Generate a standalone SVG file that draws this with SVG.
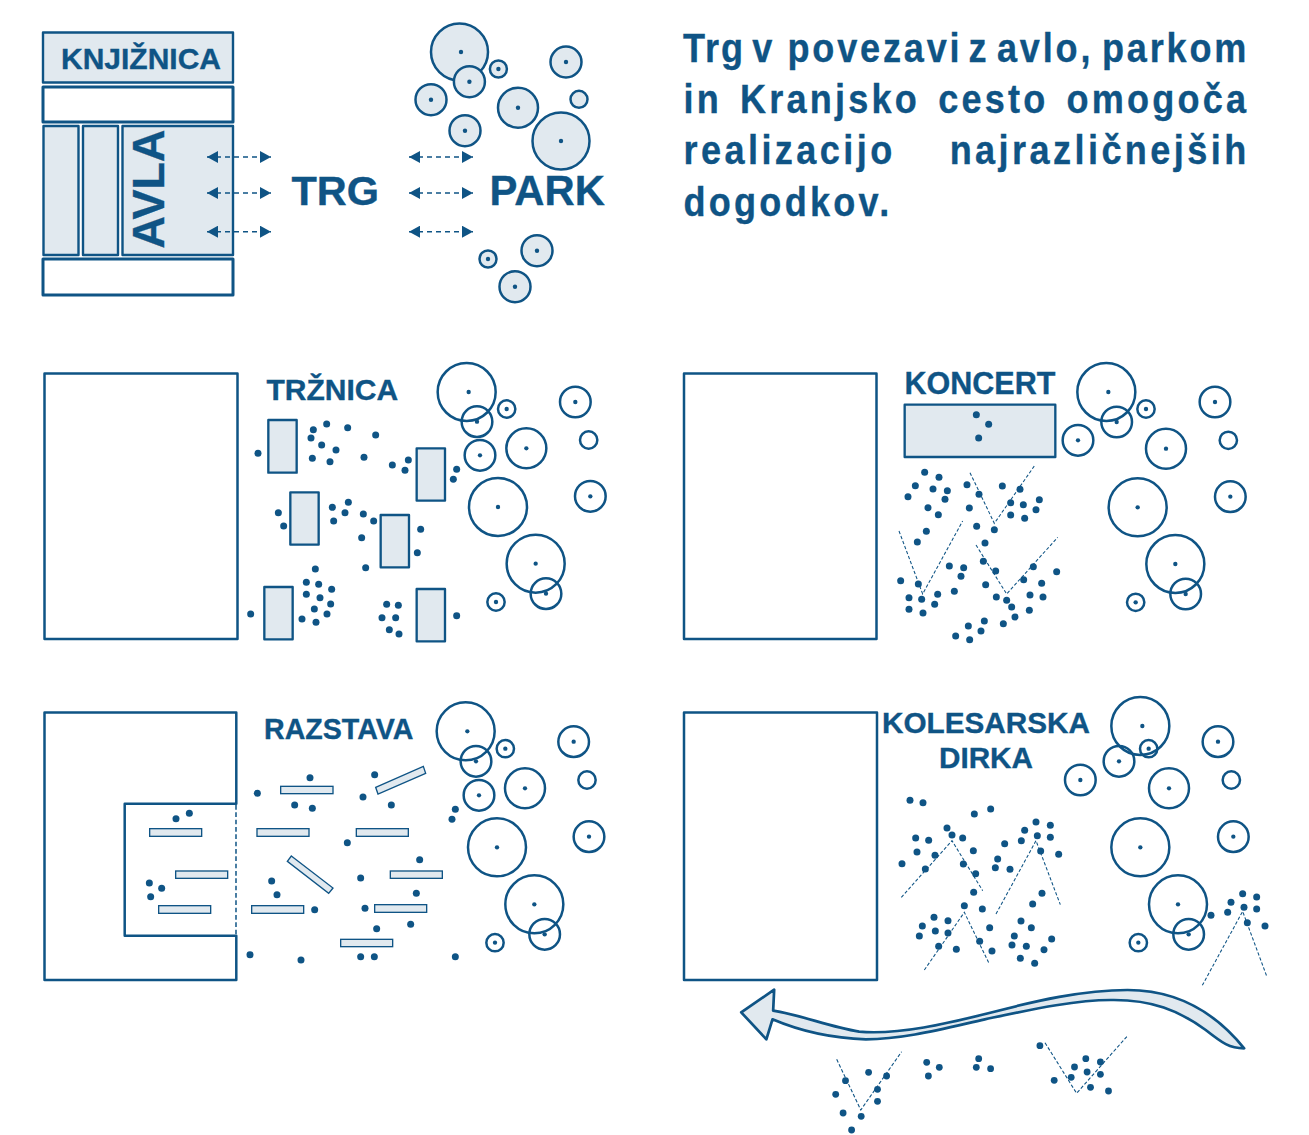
<svg xmlns="http://www.w3.org/2000/svg" width="1309" height="1135" viewBox="0 0 1309 1135">
<style>
text{font-family:"Liberation Sans",Arial,sans-serif;font-weight:700;fill:#0f5485;stroke:#0f5485;stroke-width:.35}
.box{fill:#e1e9ef;stroke:#0f5485;stroke-width:2.4;stroke-linejoin:round}
.wall{fill:#fff;stroke:#0f5485;stroke-width:2.5;stroke-linejoin:round}
.wall3{fill:#fff;stroke:#0f5485;stroke-width:3;stroke-linejoin:round}
.flow{fill:none;stroke:#0f5485;stroke-width:1.4;stroke-dasharray:5 4;marker-start:url(#hs);marker-end:url(#he)}
.park circle{fill:#e1e9ef;stroke:#0f5485;stroke-width:2.5}
.park circle.c{fill:#0f5485;stroke:none;r:2.2px}
.z .t{fill:none;stroke:#0f5485;stroke-width:7.5}
.z .c{fill:#0f5485;r:6.5px}
.z .d{fill:#0f5485;r:10.5px}
.z .s{fill:#e1e9ef;stroke:#0f5485;stroke-width:7;stroke-linejoin:round}
.z .n{fill:#e1e9ef;stroke:#0f5485;stroke-width:4}
.z .v{fill:none;stroke:#0f5485;stroke-width:3.2;stroke-dasharray:10 6}
.z .dd{fill:none;stroke:#0f5485;stroke-width:4.5;stroke-dasharray:14 8}
.dot{fill:#0f5485;r:3.4px}
.v2{fill:none;stroke:#0f5485;stroke-width:1.1;stroke-dasharray:3.5 2}
</style>
<defs>
<marker id="he" markerUnits="userSpaceOnUse" markerWidth="11" markerHeight="12" refX="11" refY="6" orient="auto"><path d="M0 0L11 6L0 12Z" fill="#0f5485"/></marker>
<marker id="hs" markerUnits="userSpaceOnUse" markerWidth="11" markerHeight="12" refX="0" refY="6" orient="auto"><path d="M11 0L0 6L11 12Z" fill="#0f5485"/></marker>
</defs>

<g id="knjiznica">
<rect class="box" x="43" y="32.5" width="190" height="50"/>
<text x="61" y="69" font-size="30">KNJIŽNICA</text>
</g>
<rect id="hodnik" class="wall3" x="43" y="87" width="190" height="35"/>
<rect id="stolpec-1" class="box" x="43.5" y="126" width="35" height="129"/>
<rect id="stolpec-2" class="box" x="83" y="126" width="35" height="129"/>
<g id="avla">
<rect class="box" x="122.5" y="126" width="110.5" height="129"/>
<text transform="translate(163.5 189) rotate(-90)" text-anchor="middle" font-size="45">AVLA</text>
</g>
<rect id="spodaj" class="wall3" x="43" y="259" width="190" height="36"/>
<text id="trg" x="291.500" y="205" font-size="41.500">TRG</text>
<text id="park-label" x="489.500" y="205" font-size="41.800">PARK</text>

<g id="connectors">
<path class="flow" d="M207 157H271"/>
<path class="flow" d="M207 193H271"/>
<path class="flow" d="M207 231.700H271"/>
<path class="flow" d="M409 157H473"/>
<path class="flow" d="M409 193H473"/>
<path class="flow" d="M409 231.700H473"/>
</g>

<g id="park" class="park">
<circle cx="459.500" cy="52" r="28.500"/><circle class="c" cx="461" cy="52"/>
<circle cx="498.400" cy="69" r="8.500"/><circle class="c" cx="498.400" cy="69"/>
<circle cx="469.400" cy="81.700" r="15.500"/><circle class="c" cx="469.400" cy="81.700"/>
<circle cx="566" cy="62" r="15.500"/><circle class="c" cx="566" cy="62"/>
<circle cx="431" cy="99.700" r="15.500"/><circle class="c" cx="431" cy="99.700"/>
<circle cx="518" cy="107.700" r="20"/><circle class="c" cx="518" cy="107.700"/>
<circle cx="579" cy="99.300" r="8.500"/>
<circle cx="465" cy="130.700" r="15.500"/><circle class="c" cx="465" cy="130.700"/>
<circle cx="561" cy="141" r="28.500"/><circle class="c" cx="561" cy="141"/>
<circle cx="537" cy="250.700" r="15.500"/><circle class="c" cx="537" cy="250.700"/>
<circle cx="488" cy="259" r="8.500"/><circle class="c" cx="488" cy="259"/>
<circle cx="515" cy="286.700" r="15.500"/><circle class="c" cx="515" cy="286.700"/>
</g>

<g id="opis" font-size="41">
<text transform="translate(683 62) scale(.88 1)" letter-spacing="3.200" word-spacing="-5.200"><tspan letter-spacing="2.200">Trg </tspan>v <tspan dx="4.600">povezavi </tspan><tspan dx="-2.500">z </tspan><tspan dx="-.7">avlo, </tspan><tspan dx=".5">parkom</tspan></text>
<text transform="translate(683.500 113.300) scale(.88 1)" letter-spacing="3.650" word-spacing="5.500">in Kranjsko cesto omogoča</text>
<text transform="translate(683.500 164) scale(.88 1)" letter-spacing="3.900" word-spacing="46">realizacijo najrazličnejših</text>
<text transform="translate(683.500 216) scale(.88 1)" letter-spacing="3.700">dogodkov.</text>
</g>

<g id="trznica">
<rect class="wall" x="44.500" y="373.500" width="193" height="265.500"/>
<text x="266.500" y="400" font-size="30">TRŽNICA</text>
<g class="z" transform="translate(230 350) scale(.33333)">
<circle class="t" cx="710" cy="126" r="87"/><circle class="c" cx="716" cy="126"/>
<circle class="t" cx="741" cy="215" r="46"/><circle class="c" cx="741" cy="215"/>
<circle class="t" cx="830" cy="177" r="26"/><circle class="c" cx="830" cy="177"/>
<circle class="t" cx="1036" cy="156" r="46"/><circle class="c" cx="1036" cy="156"/>
<circle class="t" cx="750" cy="316" r="46"/><circle class="c" cx="750" cy="316"/>
<circle class="t" cx="889" cy="295" r="60"/><circle class="c" cx="889" cy="295"/>
<circle class="t" cx="1076" cy="270" r="26"/>
<circle class="t" cx="804" cy="471" r="87"/><circle class="c" cx="804" cy="471"/>
<circle class="t" cx="1081" cy="439" r="46"/><circle class="c" cx="1081" cy="439"/>
<circle class="t" cx="917" cy="641" r="87"/><circle class="c" cx="917" cy="641"/>
<circle class="t" cx="948" cy="731" r="46"/><circle class="c" cx="948" cy="731"/>
<circle class="t" cx="798" cy="756" r="26"/><circle class="c" cx="798" cy="756"/>
<rect class="s" x="115" y="210" width="85" height="158"/>
<rect class="s" x="560" y="295" width="85" height="157"/>
<rect class="s" x="181" y="427" width="85" height="157"/>
<rect class="s" x="452" y="495" width="85" height="157"/>
<rect class="s" x="103" y="711" width="85" height="157"/>
<rect class="s" x="560" y="717" width="85" height="157"/>
<circle class="d" cx="84" cy="310"/><circle class="d" cx="250" cy="239"/><circle class="d" cx="290" cy="222"/><circle class="d" cx="353" cy="233"/><circle class="d" cx="437" cy="255"/><circle class="d" cx="243" cy="264"/><circle class="d" cx="275" cy="285"/><circle class="d" cx="318" cy="300"/><circle class="d" cx="247" cy="325"/><circle class="d" cx="300" cy="335"/><circle class="d" cx="402" cy="322"/><circle class="d" cx="487" cy="345"/><circle class="d" cx="535" cy="330"/><circle class="d" cx="525" cy="361"/><circle class="d" cx="680" cy="358"/><circle class="d" cx="670" cy="388"/>
<circle class="d" cx="145" cy="488"/><circle class="d" cx="161" cy="528"/><circle class="d" cx="307" cy="472"/><circle class="d" cx="355" cy="457"/><circle class="d" cx="345" cy="488"/><circle class="d" cx="311" cy="513"/><circle class="d" cx="400" cy="492"/><circle class="d" cx="431" cy="513"/><circle class="d" cx="395" cy="563"/><circle class="d" cx="572" cy="538"/><circle class="d" cx="562" cy="608"/><circle class="d" cx="407" cy="653"/>
<circle class="d" cx="256" cy="657"/><circle class="d" cx="229" cy="697"/><circle class="d" cx="266" cy="703"/><circle class="d" cx="305" cy="718"/><circle class="d" cx="229" cy="733"/><circle class="d" cx="270" cy="743"/><circle class="d" cx="302" cy="762"/><circle class="d" cx="253" cy="777"/><circle class="d" cx="291" cy="792"/><circle class="d" cx="216" cy="807"/><circle class="d" cx="258" cy="817"/><circle class="d" cx="62" cy="792"/>
<circle class="d" cx="470" cy="763"/><circle class="d" cx="505" cy="766"/><circle class="d" cx="456" cy="803"/><circle class="d" cx="497" cy="803"/><circle class="d" cx="478" cy="839"/><circle class="d" cx="507" cy="852"/><circle class="d" cx="680" cy="797"/>
</g>
</g>

<g id="koncert">
<rect class="wall" x="684" y="373.500" width="192.500" height="265.500"/>
<text x="904.500" y="394.300" font-size="30.500">KONCERT</text>
<g class="z" transform="translate(880 350) scale(.33333)">
<circle class="t" cx="679" cy="126" r="87"/><circle class="c" cx="685" cy="126"/>
<circle class="t" cx="710" cy="216" r="46"/><circle class="c" cx="710" cy="216"/>
<circle class="t" cx="798" cy="177" r="26"/><circle class="c" cx="798" cy="177"/>
<circle class="t" cx="1005" cy="156" r="46"/><circle class="c" cx="1005" cy="156"/>
<circle class="t" cx="594" cy="271" r="46"/><circle class="c" cx="594" cy="271"/>
<circle class="t" cx="858" cy="296" r="60"/><circle class="c" cx="858" cy="296"/>
<circle class="t" cx="1045" cy="271" r="26"/>
<circle class="t" cx="773" cy="472" r="87"/><circle class="c" cx="773" cy="472"/>
<circle class="t" cx="1051" cy="440" r="46"/><circle class="c" cx="1051" cy="440"/>
<circle class="t" cx="886" cy="642" r="87"/><circle class="c" cx="886" cy="642"/>
<circle class="t" cx="917" cy="732" r="46"/><circle class="c" cx="917" cy="732"/>
<circle class="t" cx="767" cy="757" r="26"/><circle class="c" cx="767" cy="757"/>
<rect class="s" x="74" y="164" width="452" height="157"/>
<path class="v" d="M270 368L343 520L465 345"/>
<path class="v" d="M57 543L128 732L248 513"/>
<path class="v" d="M288 585L380 732L533 562"/>
<circle class="d" cx="289" cy="194"/><circle class="d" cx="326" cy="223"/><circle class="d" cx="296" cy="264"/>
<circle class="d" cx="134" cy="367"/><circle class="d" cx="177" cy="382"/><circle class="d" cx="106" cy="407"/><circle class="d" cx="159" cy="417"/><circle class="d" cx="202" cy="422"/><circle class="d" cx="84" cy="440"/><circle class="d" cx="195" cy="448"/><circle class="d" cx="144" cy="473"/><circle class="d" cx="175" cy="494"/><circle class="d" cx="261" cy="404"/><circle class="d" cx="297" cy="433"/><circle class="d" cx="367" cy="408"/><circle class="d" cx="420" cy="418"/><circle class="d" cx="392" cy="458"/><circle class="d" cx="430" cy="464"/><circle class="d" cx="478" cy="449"/><circle class="d" cx="468" cy="479"/><circle class="d" cx="392" cy="495"/><circle class="d" cx="434" cy="505"/><circle class="d" cx="268" cy="474"/><circle class="d" cx="290" cy="529"/><circle class="d" cx="343" cy="539"/><circle class="d" cx="139" cy="544"/><circle class="d" cx="112" cy="576"/><circle class="d" cx="315" cy="579"/><circle class="d" cx="310" cy="634"/><circle class="d" cx="347" cy="663"/><circle class="d" cx="208" cy="648"/><circle class="d" cx="251" cy="653"/><circle class="d" cx="243" cy="679"/><circle class="d" cx="460" cy="650"/><circle class="d" cx="530" cy="665"/><circle class="d" cx="62" cy="692"/><circle class="d" cx="115" cy="702"/><circle class="d" cx="431" cy="689"/><circle class="d" cx="485" cy="700"/><circle class="d" cx="317" cy="704"/><circle class="d" cx="223" cy="724"/><circle class="d" cx="87" cy="743"/><circle class="d" cx="125" cy="748"/><circle class="d" cx="173" cy="733"/><circle class="d" cx="164" cy="763"/><circle class="d" cx="87" cy="778"/><circle class="d" cx="129" cy="789"/><circle class="d" cx="349" cy="741"/><circle class="d" cx="380" cy="751"/><circle class="d" cx="450" cy="735"/><circle class="d" cx="489" cy="741"/><circle class="d" cx="395" cy="771"/><circle class="d" cx="448" cy="781"/><circle class="d" cx="405" cy="801"/><circle class="d" cx="370" cy="821"/><circle class="d" cx="313" cy="813"/><circle class="d" cx="265" cy="828"/><circle class="d" cx="303" cy="843"/><circle class="d" cx="227" cy="858"/><circle class="d" cx="269" cy="869"/>
</g>
</g>

<g id="razstava">
<path class="wall" d="M44.500 712.500H236.300V803.700H124.700V935.700H236.300V980H44.500Z"/>
<text x="264" y="739.300" font-size="28.600">RAZSTAVA</text>
<g class="z" transform="translate(100 690) scale(.33333)">
<path class="dd" d="M408 345V737"/>
<circle class="t" cx="1097" cy="124" r="87"/><circle class="c" cx="1102" cy="124"/>
<circle class="t" cx="1128" cy="214" r="46"/><circle class="c" cx="1128" cy="214"/>
<circle class="t" cx="1216" cy="176" r="26"/><circle class="c" cx="1216" cy="176"/>
<circle class="t" cx="1421" cy="155" r="46"/><circle class="c" cx="1421" cy="155"/>
<circle class="t" cx="1137" cy="316" r="46"/><circle class="c" cx="1137" cy="316"/>
<circle class="t" cx="1275" cy="295" r="60"/><circle class="c" cx="1275" cy="295"/>
<circle class="t" cx="1461" cy="270" r="26"/>
<circle class="t" cx="1191" cy="472" r="87"/><circle class="c" cx="1191" cy="472"/>
<circle class="t" cx="1467" cy="440" r="46"/><circle class="c" cx="1467" cy="440"/>
<circle class="t" cx="1303" cy="643" r="87"/><circle class="c" cx="1303" cy="643"/>
<circle class="t" cx="1334" cy="733" r="46"/><circle class="c" cx="1334" cy="733"/>
<circle class="t" cx="1185" cy="758" r="26"/><circle class="c" cx="1185" cy="758"/>
<rect class="n" x="542" y="289" width="157" height="22"/>
<rect class="n" x="149" y="416" width="156" height="23"/>
<rect class="n" x="471" y="416" width="156" height="23"/>
<rect class="n" x="769" y="416" width="156" height="23"/>
<rect class="n" x="227" y="543" width="156" height="22"/>
<rect class="n" x="871" y="543" width="156" height="22"/>
<rect class="n" x="176" y="647" width="156" height="23"/>
<rect class="n" x="455" y="647" width="156" height="23"/>
<rect class="n" x="824" y="644" width="156" height="23"/>
<rect class="n" x="722" y="748" width="156" height="22"/>
<polygon class="n" points="827,292 970,229 977,250 834,312"/>
<polygon class="n" points="574,498 699,594 686,610 562,514"/>
<circle class="d" cx="630" cy="263"/><circle class="d" cx="472" cy="310"/><circle class="d" cx="584" cy="345"/><circle class="d" cx="637" cy="355"/><circle class="d" cx="824" cy="254"/><circle class="d" cx="789" cy="321"/><circle class="d" cx="874" cy="345"/><circle class="d" cx="1066" cy="358"/><circle class="d" cx="1056" cy="388"/><circle class="d" cx="228" cy="386"/><circle class="d" cx="268" cy="370"/><circle class="d" cx="742" cy="458"/><circle class="d" cx="959" cy="509"/><circle class="d" cx="782" cy="564"/><circle class="d" cx="148" cy="579"/><circle class="d" cx="185" cy="595"/><circle class="d" cx="152" cy="620"/><circle class="d" cx="515" cy="573"/><circle class="d" cx="531" cy="614"/><circle class="d" cx="644" cy="659"/><circle class="d" cx="949" cy="610"/><circle class="d" cx="795" cy="655"/><circle class="d" cx="932" cy="703"/><circle class="d" cx="830" cy="716"/><circle class="d" cx="450" cy="794"/><circle class="d" cx="603" cy="810"/><circle class="d" cx="782" cy="800"/><circle class="d" cx="823" cy="800"/><circle class="d" cx="1066" cy="800"/>
</g>
</g>

<g id="kolesarska-dirka">
<rect class="wall" x="684" y="712.500" width="193" height="267.500"/>
<text x="986" y="732.700" font-size="29.700" text-anchor="middle">KOLESARSKA</text>
<text x="986" y="768.300" font-size="29.700" text-anchor="middle">DIRKA</text>
<g class="z" transform="translate(880 690) scale(.33333)">
<circle class="t" cx="781" cy="108" r="87"/><circle class="c" cx="787" cy="108"/>
<circle class="t" cx="717" cy="214" r="46"/><circle class="c" cx="717" cy="214"/>
<circle class="t" cx="806" cy="176" r="26"/><circle class="c" cx="806" cy="176"/>
<circle class="t" cx="1014" cy="155" r="46"/><circle class="c" cx="1014" cy="155"/>
<circle class="t" cx="601" cy="270" r="46"/><circle class="c" cx="601" cy="270"/>
<circle class="t" cx="867" cy="295" r="60"/><circle class="c" cx="867" cy="295"/>
<circle class="t" cx="1054" cy="270" r="26"/>
<circle class="t" cx="781" cy="472" r="87"/><circle class="c" cx="781" cy="472"/>
<circle class="t" cx="1060" cy="440" r="46"/><circle class="c" cx="1060" cy="440"/>
<circle class="t" cx="894" cy="643" r="87"/><circle class="c" cx="894" cy="643"/>
<circle class="t" cx="926" cy="733" r="46"/><circle class="c" cx="926" cy="733"/>
<circle class="t" cx="775" cy="758" r="26"/><circle class="c" cx="775" cy="758"/>
<path class="v" d="M64 622L216 452L308 602"/>
<path class="v" d="M348 672L468 452L541 644"/>
<path class="v" d="M133 840L253 667L326 818"/>
<path class="v" d="M967 886L1088 664L1160 858"/>
<circle class="d" cx="90" cy="331"/><circle class="d" cx="129" cy="338"/><circle class="d" cx="283" cy="372"/><circle class="d" cx="332" cy="357"/><circle class="d" cx="201" cy="414"/><circle class="d" cx="216" cy="435"/><circle class="d" cx="248" cy="444"/><circle class="d" cx="107" cy="444"/><circle class="d" cx="146" cy="451"/><circle class="d" cx="111" cy="486"/><circle class="d" cx="165" cy="496"/><circle class="d" cx="280" cy="482"/><circle class="d" cx="66" cy="521"/><circle class="d" cx="136" cy="537"/><circle class="d" cx="250" cy="522"/><circle class="d" cx="287" cy="551"/><circle class="d" cx="281" cy="607"/><circle class="d" cx="253" cy="647"/><circle class="d" cx="307" cy="657"/><circle class="d" cx="162" cy="682"/><circle class="d" cx="204" cy="692"/><circle class="d" cx="127" cy="708"/><circle class="d" cx="166" cy="723"/><circle class="d" cx="204" cy="729"/><circle class="d" cx="118" cy="738"/><circle class="d" cx="329" cy="713"/><circle class="d" cx="176" cy="769"/><circle class="d" cx="299" cy="754"/><circle class="d" cx="229" cy="778"/><circle class="d" cx="336" cy="783"/>
<circle class="d" cx="468" cy="396"/><circle class="d" cx="511" cy="406"/><circle class="d" cx="434" cy="421"/><circle class="d" cx="472" cy="437"/><circle class="d" cx="511" cy="442"/><circle class="d" cx="424" cy="452"/><circle class="d" cx="374" cy="461"/><circle class="d" cx="482" cy="483"/><circle class="d" cx="536" cy="493"/><circle class="d" cx="353" cy="507"/><circle class="d" cx="346" cy="533"/><circle class="d" cx="390" cy="538"/><circle class="d" cx="486" cy="610"/><circle class="d" cx="458" cy="642"/><circle class="d" cx="423" cy="693"/><circle class="d" cx="454" cy="713"/><circle class="d" cx="403" cy="738"/><circle class="d" cx="515" cy="747"/><circle class="d" cx="396" cy="765"/><circle class="d" cx="439" cy="769"/><circle class="d" cx="492" cy="779"/><circle class="d" cx="421" cy="805"/><circle class="d" cx="464" cy="820"/>
<circle class="d" cx="1088" cy="611"/><circle class="d" cx="1130" cy="621"/><circle class="d" cx="1053" cy="637"/><circle class="d" cx="1092" cy="652"/><circle class="d" cx="1130" cy="657"/><circle class="d" cx="1043" cy="667"/><circle class="d" cx="993" cy="676"/><circle class="d" cx="1102" cy="698"/><circle class="d" cx="1155" cy="708"/>
</g>
</g>

<g id="smer">
<path class="box" transform="translate(730 980) scale(.3398 .3333)" style="stroke-width:8" d="M33 97L130 29L127 92C210 105 290 140 380 155C500 165 640 130 760 100C900 62 1040 30 1170 30C1320 30 1430 100 1513 205C1470 205 1450 190 1400 150C1320 90 1240 60 1130 60C1020 58 880 90 750 118C620 148 510 178 400 178C300 175 210 155 125 118L107 178Z"/>
<path class="v2" d="M836.700 1059.300L860.800 1110L901.600 1051.700"/>
<path class="v2" d="M1045 1042.700L1076.600 1093.300L1127.600 1035.700"/>
<circle class="dot" cx="868.600" cy="1072.300"/><circle class="dot" cx="886.600" cy="1076"/><circle class="dot" cx="845.500" cy="1080.700"/><circle class="dot" cx="877.500" cy="1089.300"/><circle class="dot" cx="835.700" cy="1094.300"/><circle class="dot" cx="877.500" cy="1101.300"/><circle class="dot" cx="843.100" cy="1113"/><circle class="dot" cx="861.200" cy="1116.300"/><circle class="dot" cx="851.600" cy="1130"/>
<circle class="dot" cx="926.700" cy="1062.300"/><circle class="dot" cx="939.300" cy="1067.300"/><circle class="dot" cx="928.400" cy="1076"/>
<circle class="dot" cx="978.700" cy="1058.700"/><circle class="dot" cx="976.300" cy="1067.300"/><circle class="dot" cx="990.600" cy="1068.700"/>
<circle class="dot" cx="1039.900" cy="1045.700"/><circle class="dot" cx="1085.800" cy="1058.700"/><circle class="dot" cx="1100.400" cy="1062"/><circle class="dot" cx="1074.500" cy="1067"/><circle class="dot" cx="1087.100" cy="1072"/><circle class="dot" cx="1100.400" cy="1074.300"/><circle class="dot" cx="1071.200" cy="1077.300"/><circle class="dot" cx="1054.200" cy="1080.300"/><circle class="dot" cx="1090.500" cy="1087.300"/><circle class="dot" cx="1108.500" cy="1091"/>
</g>
</svg>
